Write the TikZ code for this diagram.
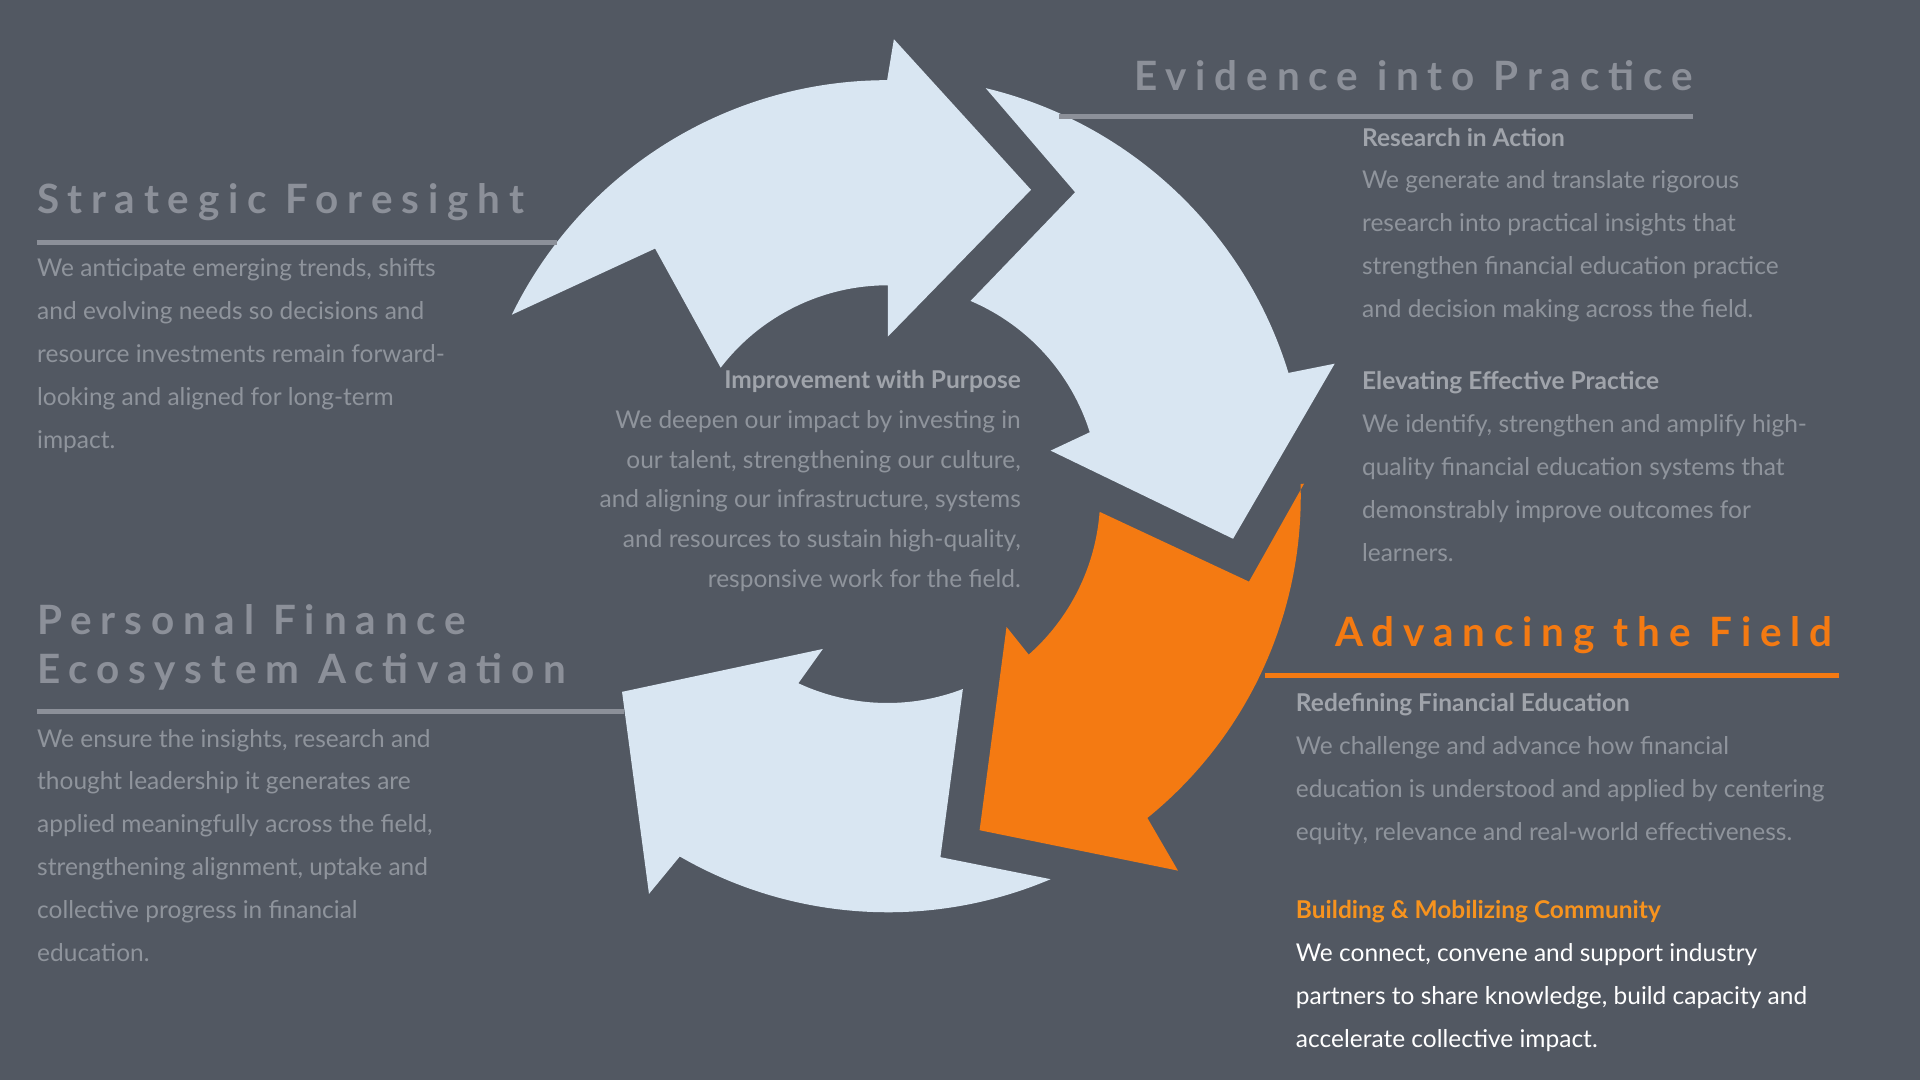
\documentclass[tikz,border=0pt]{standalone}
\usepackage{fontspec}
\setmainfont{Lato}
\newfontfamily\headfont[LetterSpace=22]{Lato}
\definecolor{bgslate}{HTML}{525862}
\definecolor{arrowlight}{HTML}{D9E6F2}
\definecolor{arroworange}{HTML}{F47A12}
\definecolor{headgray}{HTML}{8C9099}
\definecolor{bodygray}{HTML}{8F949C}
\definecolor{subgray}{HTML}{A0A4AB}
\definecolor{subornge}{HTML}{F7931E}
\tikzset{every picture/.style={line width=0.75pt}}
\tikzset{
  heading/.style={font=\headfont\bfseries\fontsize{33}{40}\selectfont, text=headgray, anchor=west, inner sep=0pt, align=left},
  bodytext/.style={font=\fontsize{20}{35}\selectfont, text=bodygray, anchor=north west, inner sep=0pt, align=left},
  rule/.style={draw=headgray, line width=4pt},
}
\newcommand{\subhead}[1]{{\bfseries\color{subgray}#1}}

\begin{document}
\begin{tikzpicture}[x=1pt,y=1pt,yscale=-1,xscale=1]
	\useasboundingbox (0,0) rectangle (1568,882);
	\fill[bgslate] (0,0) rectangle (1568,882);
	
	%Shape: Arrow top left
	\fill[arrowlight] (418,257) arc[start angle=206,end angle=270,radius=341] -- (730,32) -- (842,155) -- (725,275) -- (725,233) arc[start angle=270,end angle=217.5,radius=172] -- (535,203) -- cycle ;
	%Shape: Arrow right
	\fill[arrowlight] (805,72) arc[start angle=-76.5,end angle=-17,radius=342] -- (1090,297) -- (1007,440) -- (858,368) -- (890,353) arc[start angle=-17.5,end angle=-67,radius=173] -- (878,157) -- cycle ;
	%Shape: Arrow orange
	\fill[arroworange] (1065,395) -- (1020,475) -- (898,418) arc[start angle=4.3,end angle=48.5,radius=173] -- (822,512) -- (800,678) -- (962,711) -- (937,668) arc[start angle=51,end angle=-1.7,radius=338] -- cycle ;
	%Shape: Arrow bottom left
	\fill[arrowlight] (508,565) -- (672,530) -- (652,558) arc[start angle=115,end angle=69,radius=172] -- (768,700) -- (858,718) arc[start angle=67,end angle=120,radius=340] -- (530,730) -- cycle ;
	
	%Straight Lines
	\draw[rule] (865,95) -- (1383,95) ;
	\draw[rule] (30,198) -- (455,198) ;
	\draw[rule] (30,581) -- (510,581) ;
	\draw[rule, draw=arroworange] (1033,552) -- (1502,552) ;
	
	% Text Node
	\node[heading, anchor=east] (evidence) at (1383,62) {Evidence into Practice};
	% Text Node
	\node[heading] (foresight) at (30,165) {Strategic Foresight};
	% Text Node
	\node[heading] (ecosystem) at (30,529) {Personal Finance\\[-0pt]Ecosystem Activation};
	% Text Node
	\node[heading, anchor=east, text=arroworange] (advancing) at (1497,519) {Advancing the Field};
	
	% Text Node
	\node[bodytext] (foresightbody) at (30,211) {We anticipate emerging trends, shifts\\and evolving needs so decisions and\\resource investments remain forward-\\looking and aligned for long-term\\impact.};
	% Text Node
	\node[bodytext] (research) at (1112,104) {\subhead{Research in Action}\\We generate and translate rigorous\\research into practical insights that\\strengthen financial education practice\\and decision making across the field.};
	% Text Node
	\node[bodytext] (elevating) at (1112,303) {\subhead{Elevating Effective Practice}\\We identify, strengthen and amplify high-\\quality financial education systems that\\demonstrably improve outcomes for\\learners.};
	% Text Node
	\node[bodytext, anchor=north east, align=right, font=\fontsize{20}{32.5}\selectfont] (purpose) at (834,302) {\subhead{Improvement with Purpose}\\We deepen our impact by investing in\\our talent, strengthening our culture,\\and aligning our infrastructure, systems\\and resources to sustain high-quality,\\responsive work for the field.};
	% Text Node
	\node[bodytext] (ecosystembody) at (30,595) {We ensure the insights, research and\\thought leadership it generates are\\applied meaningfully across the field,\\strengthening alignment, uptake and\\collective progress in financial\\education.};
	% Text Node
	\node[bodytext] (redefining) at (1058,566) {\subhead{Redefining Financial Education}\\We challenge and advance how financial\\education is understood and applied by centering\\equity, relevance and real-world effectiveness.};
	% Text Node
	\node[bodytext, text=white] (community) at (1058,735) {{\bfseries\color{subornge}Building \& Mobilizing Community}\\We connect, convene and support industry\\partners to share knowledge, build capacity and\\accelerate collective impact.};
	
\end{tikzpicture}
\end{document}
